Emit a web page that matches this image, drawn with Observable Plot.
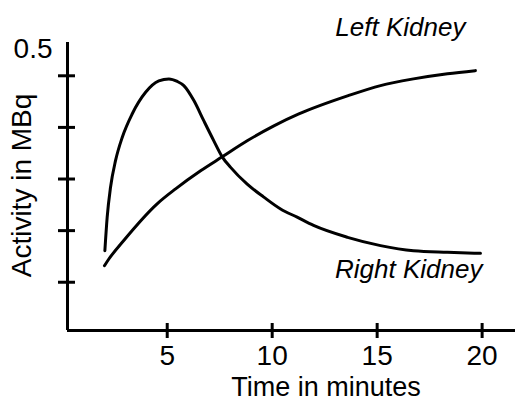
<!DOCTYPE html>
<html>
<head>
<meta charset="utf-8">
<script src="https://cdn.jsdelivr.net/npm/d3@7"></script>
<script src="https://cdn.jsdelivr.net/npm/@observablehq/plot@0.6"></script>
<style>
  html, body { margin: 0; padding: 0; background: #fff; }
</style>
</head>
<body>
<div id="chart"></div>
<script>
// Right Kidney (peaked curve)
const rightTime = [2.03, 2.14, 2.30, 2.54, 2.86, 3.33, 3.97, 4.60, 5.08, 5.48, 5.79, 6.27, 6.74, 7.22, 7.62, 8.01, 8.81, 9.60, 10.40, 11.19, 11.97, 13.59, 15.16, 16.73, 18.35, 19.92];
const rightActivity = [0.161, 0.226, 0.284, 0.336, 0.381, 0.426, 0.468, 0.490, 0.494, 0.489, 0.481, 0.452, 0.413, 0.374, 0.343, 0.323, 0.290, 0.265, 0.242, 0.226, 0.210, 0.187, 0.171, 0.161, 0.158, 0.156];
// Left Kidney (rising curve)
const leftTime = [2.01, 2.22, 2.93, 4.52, 5.40, 6.59, 7.62, 8.81, 10.08, 11.27, 13.59, 15.16, 16.73, 18.35, 19.68];
const leftActivity = [0.132, 0.145, 0.181, 0.252, 0.281, 0.316, 0.343, 0.374, 0.403, 0.426, 0.461, 0.481, 0.494, 0.504, 0.510];

const xTicks = [5, 10, 15, 20];
const yTicks = [0.1, 0.2, 0.3, 0.4, 0.5];
const yTopLabel = "0.5";
const xDomain = [0.25, 21.59];
const yDomain = [0.0065, 0.5645];
const xLabel = "Time in minutes";
const yLabel = "Activity in MBq";
const leftName = "Left Kidney";
const rightName = "Right Kidney";

const right = rightTime.map((t, i) => ({t, v: rightActivity[i]}));
const left = leftTime.map((t, i) => ({t, v: leftActivity[i]}));

const font = "'Liberation Sans', Arial, Helvetica, sans-serif";

const chart = Plot.plot({
  width: 519,
  height: 401,
  marginLeft: 67,
  marginRight: 4,
  marginTop: 42,
  marginBottom: 71,
  style: {background: "#fff", fontFamily: font, fontSize: "28px", color: "#000"},
  x: {domain: xDomain},
  y: {domain: yDomain},
  marks: [
    Plot.ruleX([xDomain[0]], {stroke: "#000", strokeWidth: 3}),
    Plot.ruleY([yDomain[0]], {stroke: "#000", strokeWidth: 3}),
    Plot.axisY({ticks: yTicks, tickSize: 17, dx: 8, tickFormat: () => "", label: null, strokeWidth: 3, stroke: "#000"}),
    Plot.axisX({ticks: xTicks, tickSize: 15, dy: -7, tickPadding: 7, label: null, strokeWidth: 3, stroke: "#000", fontSize: 28, fill: "#000"}),
    Plot.line(right, {x: "t", y: "v", curve: "monotone-x", stroke: "#000", strokeWidth: 3}),
    Plot.line(left, {x: "t", y: "v", curve: "monotone-x", stroke: "#000", strokeWidth: 3}),
    Plot.text([left[left.length - 1]], {x: "t", y: "v", text: () => leftName, textAnchor: "end", lineAnchor: "bottom", dx: -10, dy: -35, fontSize: 26, fontStyle: "italic", fill: "#000"}),
    Plot.text([right[right.length - 1]], {x: "t", y: "v", text: () => rightName, textAnchor: "end", lineAnchor: "bottom", dx: 2, dy: 25, fontSize: 26, fontStyle: "italic", fill: "#000"}),
    Plot.text([yTopLabel], {frameAnchor: "top-left", text: d => d, textAnchor: "end", lineAnchor: "bottom", dx: -15, dy: 15, fontSize: 28, fill: "#000"}),
    Plot.text([xLabel], {frameAnchor: "bottom", text: d => d, textAnchor: "middle", lineAnchor: "bottom", dx: 34.5, dy: 65, fontSize: 27, fill: "#000"}),
    Plot.text([yLabel], {frameAnchor: "left", text: d => d, rotate: -90, textAnchor: "middle", lineAnchor: "bottom", dx: -37, dy: -1, fontSize: 28, fill: "#000"})
  ]
});
document.getElementById("chart").appendChild(chart);
</script>
</body>
</html>
